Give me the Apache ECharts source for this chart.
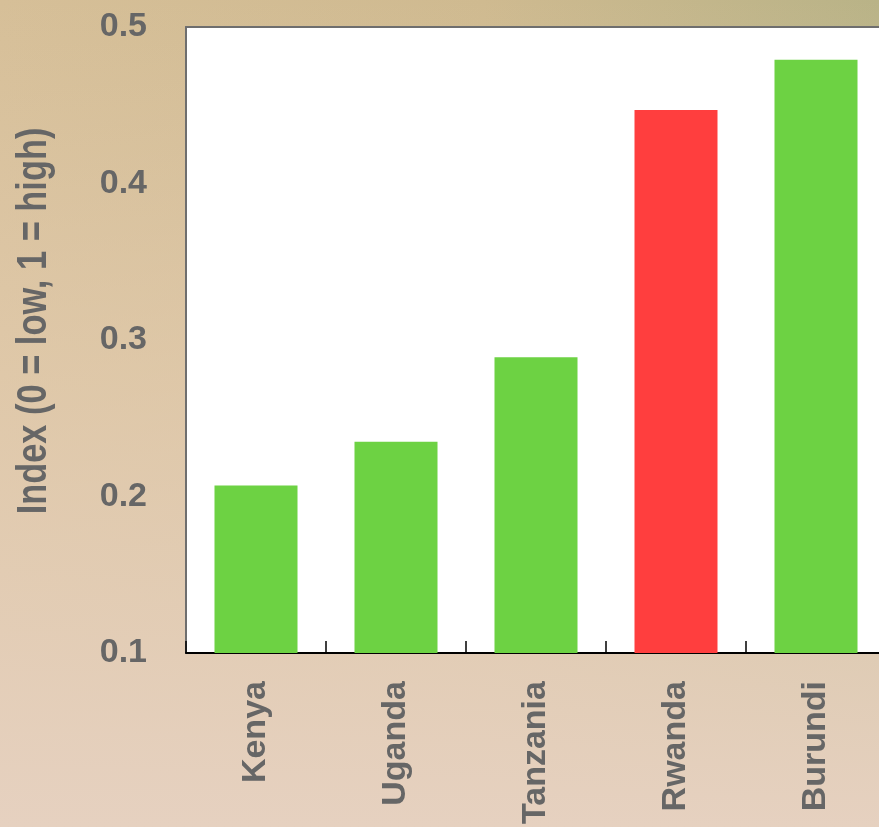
<!DOCTYPE html>
<html>
<head>
<meta charset="utf-8">
<script src="https://cdn.jsdelivr.net/npm/echarts@6/dist/echarts.min.js"></script>
<style>
  html, body {
    margin: 0;
    padding: 0;
    width: 879px;
    height: 827px;
    overflow: hidden;
  }
  body {
    background:
      linear-gradient(to bottom, rgba(230, 209, 192, 0) 0%, rgba(229, 206, 180, 0.6) 45%, rgba(230, 209, 192, 1) 100%),
      linear-gradient(to right, #d6bf98 0%, #cfba90 55%, #b9b387 100%);
  }
  #chart {
    width: 900px;
    height: 827px;
  }
</style>
</head>
<body>
<div id="chart"></div>
<script>
// chart data
const countries = ['Kenya', 'Uganda', 'Tanzania', 'Rwanda', 'Burundi'];
const indexValues = [0.207, 0.235, 0.289, 0.447, 0.479];
const barColors = ['#6dd243', '#6dd243', '#6dd243', '#ff3e3e', '#6dd243'];
const yTicks = [0.1, 0.2, 0.3, 0.4, 0.5];
const yTitle = 'Index (0 = low, 1 = high)';

// chart is a bit wider than the window, the plot runs past the right edge
const chart = echarts.init(document.getElementById('chart'), null, { renderer: 'canvas' });

const labelFont = {
    color: '#666666',
    fontFamily: 'Liberation Sans, Arial, sans-serif',
    fontWeight: 'bold',
    fontSize: 34
};

chart.setOption({
    backgroundColor: 'transparent',
    animation: false,
    grid: {
        left: 186,
        top: 27,
        width: 700,
        height: 627,
        show: true,
        backgroundColor: '#ffffff',
        borderWidth: 0
    },
    xAxis: [
        {
            type: 'category',
            data: countries,
            position: 'bottom',
            axisLine: { lineStyle: { color: '#000000', width: 2 } },
            axisTick: { show: true, inside: true, length: 12, lineStyle: { color: '#000000', width: 1.5 } },
            axisLabel: Object.assign({ rotate: 90, margin: 28 }, labelFont),
            splitLine: { show: false }
        },
        {
            // top border of the plot
            type: 'category',
            data: countries,
            position: 'top',
            axisLine: { lineStyle: { color: '#6e6e6e', width: 2 } },
            axisTick: { show: false },
            axisLabel: { show: false }
        }
    ],
    yAxis: {
        type: 'value',
        min: yTicks[0],
        max: yTicks[yTicks.length - 1],
        interval: 0.1,
        axisLine: { show: true, lineStyle: { color: '#6e6e6e', width: 2 } },
        axisTick: { show: false },
        splitLine: { show: false },
        axisLabel: Object.assign({
            margin: 39,
            formatter: (v) => v.toFixed(1)
        }, labelFont)
    },
    graphic: [
        {
            type: 'text',
            x: 34,
            y: 321,
            rotation: Math.PI / 2,
            scaleX: 0.8,
            style: {
                text: yTitle,
                fill: '#666666',
                font: 'bold 43px "Liberation Sans", Arial, sans-serif',
                align: 'center',
                verticalAlign: 'middle'
            }
        }
    ],
    series: [
        {
            type: 'bar',
            xAxisIndex: 0,
            barWidth: 83,
            data: indexValues.map((v, i) => ({
                value: v,
                itemStyle: { color: barColors[i] }
            }))
        }
    ]
});
</script>
</body>
</html>
